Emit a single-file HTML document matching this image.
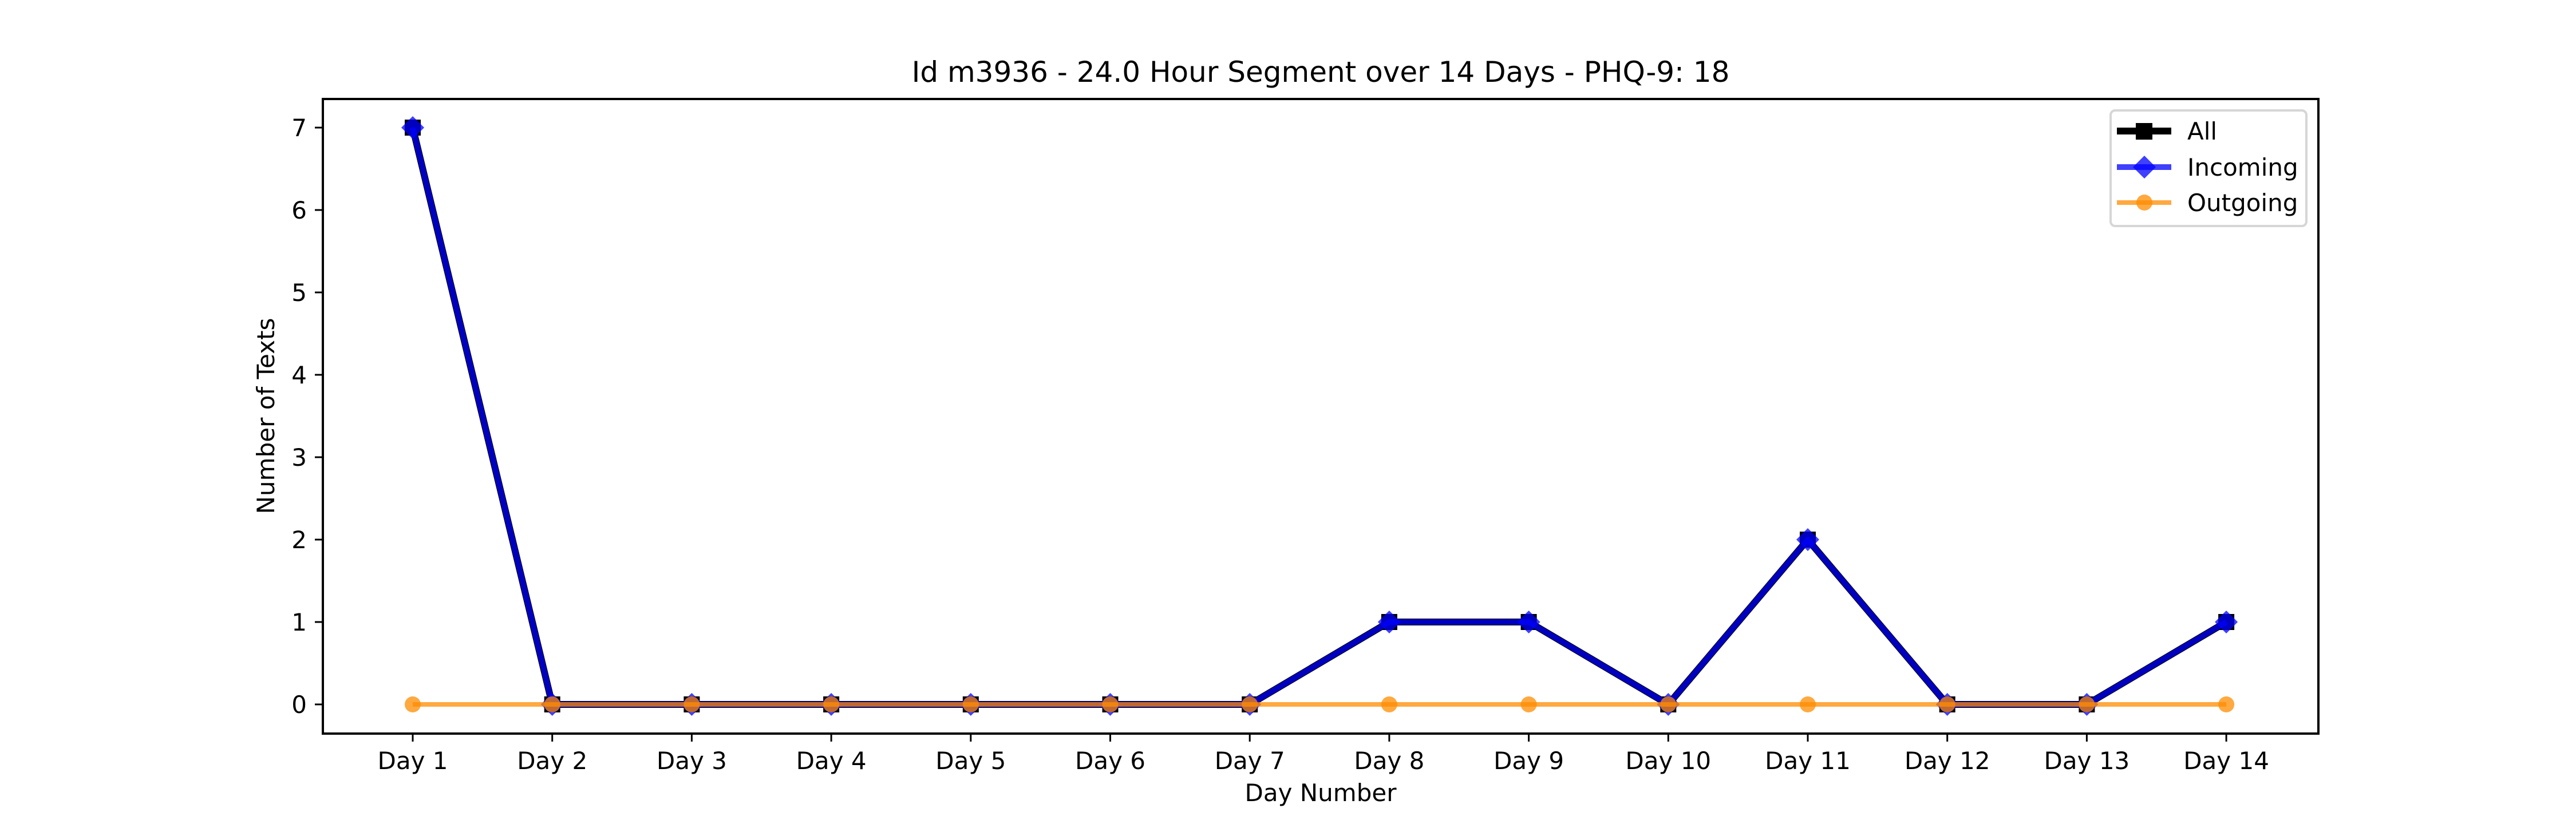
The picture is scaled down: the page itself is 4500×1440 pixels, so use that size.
<!DOCTYPE html>
<html><head><meta charset="utf-8"><style>
html,body{margin:0;padding:0;background:#fff;}
svg{display:block;font-family:"DejaVu Sans","Liberation Sans",sans-serif;}
</style></head><body>
<svg id="chart" width="4500" height="1440" viewBox="0 0 4500 1440" xmlns="http://www.w3.org/2000/svg">
<rect width="4500" height="1440" fill="#fff"/>
<text x="2307" y="143" font-size="50" text-anchor="middle">Id m3936 - 24.0 Hour Segment over 14 Days - PHQ-9: 18</text>
<g id="grid"></g>
<g id="marks"></g>
<rect x="564" y="173" width="3486" height="1109" fill="none" stroke="#000" stroke-width="4"/>
<text transform="translate(479,727) rotate(-90)" font-size="42" text-anchor="middle">Number of Texts</text>
<text x="2307" y="1400" font-size="42" text-anchor="middle">Day Number</text>
<g>
<rect x="3687" y="193" width="342" height="202" rx="8" fill="#fff" fill-opacity="0.8" stroke="#d6d6d6" stroke-width="4"/>
<line x1="3698" y1="229" x2="3793" y2="229" stroke="#000" stroke-width="12"/>
<rect x="3731" y="215" width="29" height="29" fill="#000"/>
<text x="3821" y="244" font-size="42">All</text>
<line x1="3698" y1="292" x2="3793" y2="292" stroke="#0000ff" stroke-opacity="0.75" stroke-width="10"/>
<polygon points="3746,272 3766,292 3746,312 3726,292" fill="#0000ff" fill-opacity="0.75"/>
<text x="3821" y="307" font-size="42">Incoming</text>
<line x1="3698" y1="354" x2="3793" y2="354" stroke="#ff8c00" stroke-opacity="0.75" stroke-width="8"/>
<circle cx="3746" cy="354" r="14" fill="#ff8c00" fill-opacity="0.75"/>
<text x="3821" y="369" font-size="42">Outgoing</text>
</g>
</svg>
<script>
const categories = ["Day 1","Day 2","Day 3","Day 4","Day 5","Day 6","Day 7","Day 8","Day 9","Day 10","Day 11","Day 12","Day 13","Day 14"];
const allValues = [7,0,0,0,0,0,0,1,1,0,2,0,0,1];
const incomingValues = [7,0,0,0,0,0,0,1,1,0,2,0,0,1];
const outgoingValues = [0,0,0,0,0,0,0,0,0,0,0,0,0,0];
const yTicks = [0,1,2,3,4,5,6,7];

const NS = "http://www.w3.org/2000/svg";
const xs = i => 721 + i * 243.7;
const ys = v => 1231 - v * 144;
const grid = document.getElementById('grid');
const marks = document.getElementById('marks');
function mk(tag, attrs, parent){
  const e = document.createElementNS(NS, tag);
  for (const k in attrs) e.setAttribute(k, attrs[k]);
  parent.appendChild(e);
  return e;
}
yTicks.forEach(t => {
  const l = mk('line', {x1:550, x2:564, y1:ys(t), y2:ys(t), stroke:'#000', 'stroke-width':3}, grid);
  
  
  const tx = mk('text', {x:536, y:ys(t)+15, 'font-size':42, 'text-anchor':'end'}, grid);
  tx.textContent = t;
  
  
});
categories.forEach((c, i) => {
  const l = mk('line', {x1:xs(i), x2:xs(i), y1:1282, y2:1296, stroke:'#000', 'stroke-width':3}, grid);
  
  
  const tx = mk('text', {x:xs(i), y:1344, 'font-size':42, 'text-anchor':'middle'}, grid);
  tx.textContent = c;
  
  
});
function series(vals, name, color, op, width, marker){
  const pts = vals.map((v, i) => xs(i) + ',' + ys(v)).join(' ');
  const pl = mk('polyline', {points:pts, fill:'none', stroke:color, 'stroke-opacity':op, 'stroke-width':width, 'stroke-linejoin':'round'}, marks);
  
  
  vals.forEach((v, i) => {
    const x = xs(i), y = ys(v);
    let m;
    if (marker === 'square') m = mk('rect', {x:x-14, y:y-14, width:28, height:28, fill:color}, marks);
    else if (marker === 'diamond') m = mk('polygon', {points:`${x},${y-20} ${x+20},${y} ${x},${y+20} ${x-20},${y}`, fill:color, 'fill-opacity':op}, marks);
    else m = mk('circle', {cx:x, cy:y, r:14, fill:color, 'fill-opacity':op}, marks);
    
    
  });
}
series(allValues, 'all', '#000000', 1, 12, 'square');
series(incomingValues, 'incoming', '#0000ff', 0.75, 10, 'diamond');
series(outgoingValues, 'outgoing', '#ff8c00', 0.75, 8, 'circle');
</script>
</body></html>
